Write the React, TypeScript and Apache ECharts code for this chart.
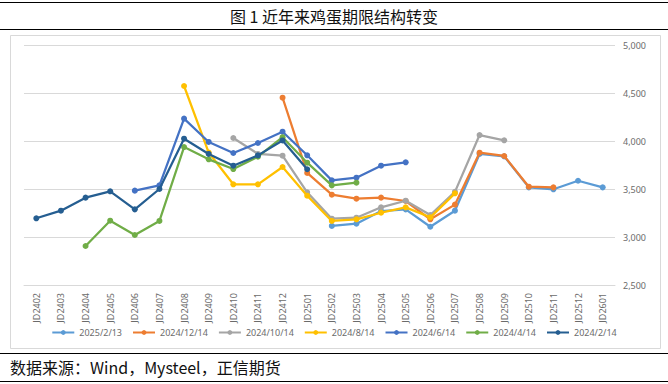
import React, { useEffect, useRef } from "react";
import * as echarts from "echarts";

const categories = [
  "JD2402", "JD2403", "JD2404", "JD2405", "JD2406", "JD2407", "JD2408", "JD2409",
  "JD2410", "JD2411", "JD2412", "JD2501", "JD2502", "JD2503", "JD2504", "JD2505",
  "JD2506", "JD2507", "JD2508", "JD2509", "JD2510", "JD2511", "JD2512", "JD2601",
];

const N = null;
const s20250213 = [N, N, N, N, N, N, N, N, N, N, N, N, 3115, 3139, 3270, 3288, 3107, 3274, 3865, 3840, 3517, 3497, 3586, 3517];
const s20241214 = [N, N, N, N, N, N, N, N, N, N, 4451, 3667, 3441, 3399, 3410, 3375, 3184, 3337, 3878, 3844, 3524, 3517, N, N];
const s20241014 = [N, N, N, N, N, N, N, N, 4031, 3865, 3847, 3465, 3191, 3201, 3309, 3378, 3229, 3470, 4062, 4007, N, N, N, N];
const s20240814 = [N, N, N, N, N, N, 4573, 3880, 3549, 3549, 3729, 3430, 3167, 3184, 3253, 3309, 3205, 3455, N, N, N, N, N, N];
const s20240614 = [N, N, N, N, 3483, 3538, 4233, 3990, 3875, 3979, 4097, 3851, 3590, 3618, 3743, 3778, N, N, N, N, N, N, N, N];
const s20240414 = [N, N, 2906, 3170, 3021, 3167, 3937, 3809, 3708, 3837, 4040, 3774, 3538, 3566, N, N, N, N, N, N, N, N, N, N];
const s20240214 = [3195, 3274, 3410, 3476, 3288, 3500, 4024, 3865, 3743, 3850, 4006, 3706, N, N, N, N, N, N, N, N, N, N, N, N];

const seriesNames = ["2025/2/13", "2024/12/14", "2024/10/14", "2024/8/14", "2024/6/14", "2024/4/14", "2024/2/14"];
const seriesData = [s20250213, s20241214, s20241014, s20240814, s20240614, s20240414, s20240214];
const seriesColors = ["#5B9BD5", "#ED7D31", "#A5A5A5", "#FFC000", "#4472C4", "#70AD47", "#255E91"];

const titleText = "图 1 近年来鸡蛋期限结构转变";
const sourceText = "数据来源：Wind，Mysteel，正信期货";

export default function App() {
  const ref = useRef<HTMLDivElement>(null);
  useEffect(() => {
    if (!ref.current) return;
    const chart = echarts.init(ref.current, null, { renderer: "svg" });
    const cjk = "'Noto Sans CJK SC', 'Noto Sans', sans-serif";
    chart.setOption({
      animation: false,
      backgroundColor: "#ffffff",
      grid: { left: 24, right: 53, top: 45, height: 240 },
      xAxis: {
        type: "category",
        data: categories,
        boundaryGap: true,
        axisLine: { show: true, lineStyle: { color: "#d9d9d9" } },
        axisTick: { show: false },
        axisLabel: {
          rotate: 90,
          interval: 0,
          fontSize: 9,
          color: "#6b6b6b",
          margin: 8,
          fontFamily: "'Noto Sans', sans-serif",
        },
      },
      yAxis: {
        type: "value",
        position: "right",
        min: 2500,
        max: 5000,
        interval: 500,
        axisLine: { show: false },
        axisTick: { show: false },
        splitLine: { lineStyle: { color: "#d9d9d9" } },
        axisLabel: {
          fontSize: 9,
          color: "#6b6b6b",
          margin: 8,
          fontFamily: "'Noto Sans', sans-serif",
          formatter: (v: number) => v.toLocaleString("en-US"),
        },
      },
      legend: {
        bottom: 42,
        left: "center",
        itemWidth: 22,
        itemHeight: 6,
        itemGap: 10,
        textStyle: { fontSize: 9, color: "#6b6b6b", fontFamily: "'Noto Sans', sans-serif" },
        data: seriesNames,
      },
      series: seriesNames.map((name, i) => ({
        name,
        type: "line",
        data: seriesData[i],
        connectNulls: false,
        symbol: "circle",
        symbolSize: 6,
        color: seriesColors[i],
        lineStyle: { width: 2.25, color: seriesColors[i] },
        itemStyle: { color: seriesColors[i] },
        z: 2 + i,
      })),
      graphic: [
        { type: "line", shape: { x1: 0, y1: 2.5, x2: 668, y2: 2.5 }, style: { stroke: "#000", lineWidth: 1.2 } },
        { type: "line", shape: { x1: 0, y1: 29.5, x2: 668, y2: 29.5 }, style: { stroke: "#000", lineWidth: 1.2 } },
        {
          type: "text",
          x: 334,
          y: 16,
          style: { text: titleText, fontSize: 16, fill: "#111", fontFamily: cjk, align: "center", verticalAlign: "middle" },
        },
        {
          type: "rect",
          shape: { x: 10.5, y: 35.5, width: 650, height: 313 },
          style: { fill: "none", stroke: "#d9d9d9", lineWidth: 1 },
          silent: true,
        },
        { type: "line", shape: { x1: 0, y1: 353.5, x2: 668, y2: 353.5 }, style: { stroke: "#000", lineWidth: 1.2 } },
        {
          type: "text",
          x: 10,
          y: 367,
          style: { text: sourceText, fontSize: 16, fill: "#111", fontFamily: cjk, align: "left", verticalAlign: "middle" },
        },
        { type: "line", shape: { x1: 0, y1: 381.5, x2: 668, y2: 381.5 }, style: { stroke: "#000", lineWidth: 1.2 } },
      ],
    });
    return () => chart.dispose();
  }, []);
  return <div ref={ref} style={{ position: "fixed", left: 0, top: 0, width: 668, height: 384 }} />;
}
